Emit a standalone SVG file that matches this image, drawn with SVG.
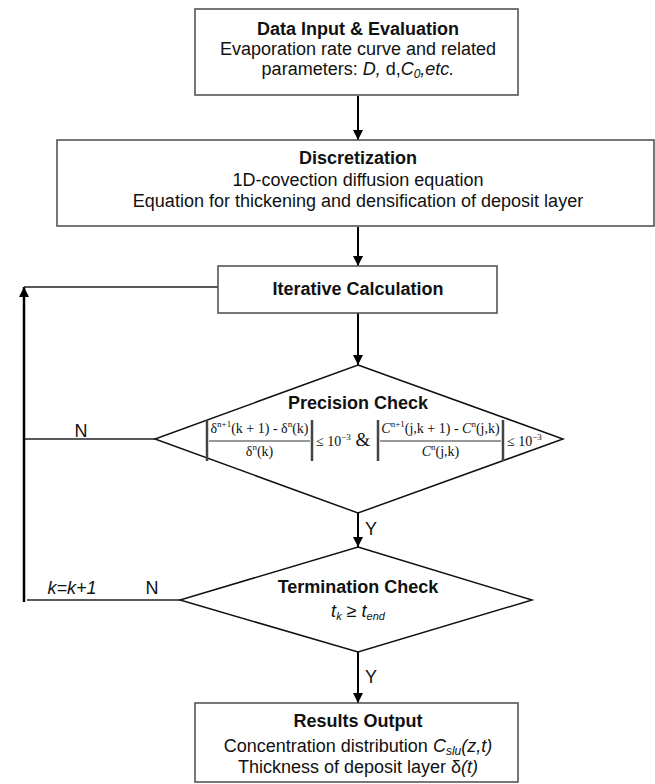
<svg xmlns="http://www.w3.org/2000/svg" width="655" height="784" viewBox="0 0 655 784">
<defs>
<marker id="ah" markerWidth="10" markerHeight="10" refX="10" refY="5" orient="auto" markerUnits="userSpaceOnUse" viewBox="0 0 10 10">
<path d="M0,0 L10,5 L0,10 Z" fill="#000"/>
</marker>
</defs>
<style>
.box{fill:#fff;stroke:#555;stroke-width:1.6}
.dia{fill:#fff;stroke:#111;stroke-width:1.5}
.t{font-family:"Liberation Sans",Arial,sans-serif;font-size:18px;fill:#111;text-anchor:middle}
.b{font-weight:bold}
.i{font-style:italic}
.m{font-family:"Liberation Serif","Times New Roman",serif;font-size:14px;fill:#111}
.lab{font-family:"Liberation Sans",Arial,sans-serif;font-size:18px;fill:#111}
.arr{stroke:#000;stroke-width:2;fill:none}
.ln{stroke:#222;stroke-width:1.5;fill:none}
.bar{stroke:#444;stroke-width:2.5}
</style>
<rect width="655" height="784" fill="#fff"/>
<g id="connectors">
<line class="arr" x1="358" y1="96" x2="358" y2="140" marker-end="url(#ah)"/>
<line class="arr" x1="358" y1="227" x2="358" y2="266" marker-end="url(#ah)"/>
<line class="arr" x1="358" y1="313" x2="358" y2="365" marker-end="url(#ah)"/>
<line class="arr" x1="358" y1="513" x2="358" y2="547" marker-end="url(#ah)"/>
<line class="arr" x1="358" y1="652" x2="358" y2="703" marker-end="url(#ah)"/>
<line class="ln" x1="155" y1="439" x2="24" y2="439"/>
<line class="ln" x1="180" y1="600" x2="27" y2="600"/>
<line stroke="#000" stroke-width="2.5" x1="24" y1="602" x2="24" y2="287" marker-end="url(#ah)"/>
<line class="ln" x1="24" y1="287" x2="218" y2="287"/>
<text class="lab" x="81" y="437" text-anchor="middle">N</text>
<text class="lab i" x="72" y="594" text-anchor="middle">k=k+1</text>
<text class="lab" x="152" y="594" text-anchor="middle">N</text>
<text class="lab" x="365" y="535">Y</text>
<text class="lab" x="365" y="683">Y</text>
</g>
<g id="n1">
<rect class="box" x="195" y="9" width="323" height="86"/>
<text class="t b" x="358" y="35">Data Input &amp; Evaluation</text>
<text class="t" x="358" y="55">Evaporation rate curve and related</text>
<text class="t" x="358" y="75">parameters: <tspan class="i">D,</tspan> d,<tspan class="i">C<tspan font-size="12" dy="3">0</tspan><tspan dy="-3">,etc.</tspan></tspan></text>
</g>
<g id="n2">
<rect class="box" x="57" y="140" width="597" height="86"/>
<text class="t b" x="358" y="164">Discretization</text>
<text class="t" x="358" y="186">1D-covection diffusion equation</text>
<text class="t" x="358" y="207">Equation for thickening and densification of deposit layer</text>
</g>
<g id="n3">
<rect class="box" x="218" y="266" width="279" height="47"/>
<text class="t b" x="358" y="295">Iterative Calculation</text>
</g>
<g id="n4">
<polygon class="dia" points="358,365 563,439 358,513 155,439"/>
<text class="t b" x="358" y="409">Precision Check</text>
<line class="bar" x1="207" y1="420" x2="207" y2="461"/>
<line class="bar" x1="312" y1="420" x2="312" y2="461"/>
<line x1="209" y1="441" x2="310" y2="441" stroke="#333" stroke-width="1"/>
<text class="m" x="259.5" y="433" text-anchor="middle">δ<tspan font-size="9" dy="-6">n+1</tspan><tspan dy="6">(k + 1) - δ</tspan><tspan font-size="9" dy="-6">n</tspan><tspan dy="6">(k)</tspan></text>
<text class="m" x="259.5" y="456" text-anchor="middle">δ<tspan font-size="9" dy="-6">n</tspan><tspan dy="6">(k)</tspan></text>
<text class="m" x="316" y="446">≤ 10<tspan font-size="9" dy="-6">−3</tspan><tspan dy="6" font-size="19"> &amp;</tspan></text>
<line class="bar" x1="378" y1="420" x2="378" y2="461"/>
<line class="bar" x1="503" y1="420" x2="503" y2="461"/>
<line x1="380" y1="441" x2="501" y2="441" stroke="#333" stroke-width="1"/>
<text class="m" x="440.5" y="433" text-anchor="middle"><tspan font-style="italic">C</tspan><tspan font-size="9" dy="-6">n+1</tspan><tspan dy="6">(j,k + 1) - </tspan><tspan font-style="italic">C</tspan><tspan font-size="9" dy="-6">n</tspan><tspan dy="6">(j,k)</tspan></text>
<text class="m" x="440.5" y="456" text-anchor="middle"><tspan font-style="italic">C</tspan><tspan font-size="9" dy="-6">n</tspan><tspan dy="6">(j,k)</tspan></text>
<text class="m" x="507" y="446">≤ 10<tspan font-size="9" dy="-6">−3</tspan></text>
</g>
<g id="n5">
<polygon class="dia" points="358,547 532,600 358,652 180,600"/>
<text class="t b" x="358" y="593">Termination Check</text>
<text class="t i" x="358" y="617" font-size="17">t<tspan font-size="11" dy="3">k</tspan><tspan dy="-3" font-style="normal"> ≥ </tspan>t<tspan font-size="11" dy="3">end</tspan></text>
</g>
<g id="n6">
<rect class="box" x="195" y="703" width="323" height="79"/>
<text class="t b" x="358" y="727">Results Output</text>
<text class="t" x="358" y="752">Concentration distribution <tspan class="i">C<tspan font-size="12" dy="3">slu</tspan><tspan dy="-3">(z,t)</tspan></tspan></text>
<text class="t" x="358" y="773">Thickness of deposit layer δ<tspan class="i">(t)</tspan></text>
</g>
</svg>
